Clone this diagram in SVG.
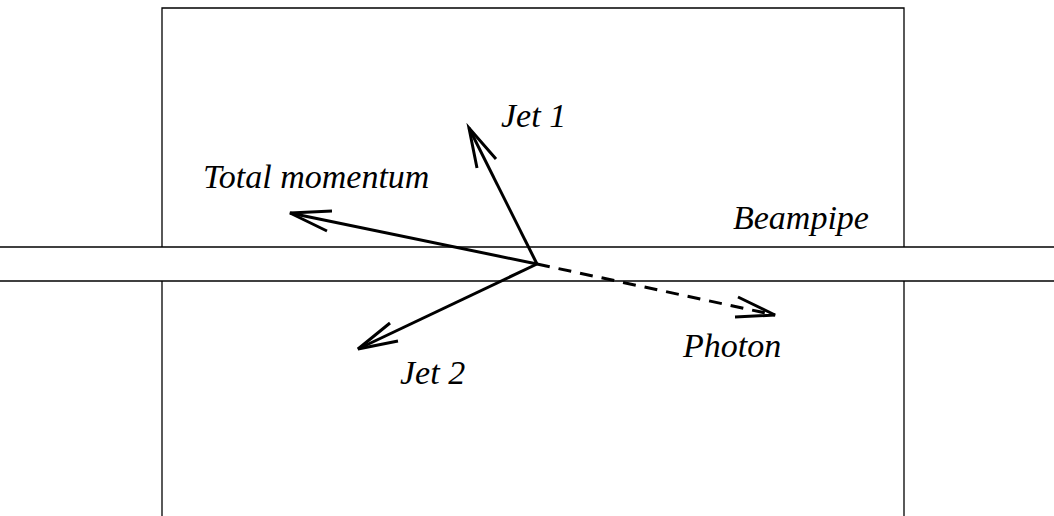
<svg xmlns="http://www.w3.org/2000/svg" width="1054" height="516" viewBox="0 0 1054 516">
<style>
.thin{stroke:#000;stroke-width:1.3;fill:none}
.vec{stroke:#000;stroke-width:3;fill:none;stroke-linecap:butt;stroke-linejoin:miter}
.dash{stroke-dasharray:13 9}
text{font-family:"Liberation Serif","Times New Roman",serif;font-style:italic;font-size:34px;fill:#000}
</style>
<rect width="1054" height="516" fill="#fff"/>
<g id="detector">
<polyline class="thin" points="162,247 162,8 904,8 904,247"/>
<line class="thin" x1="162" y1="281" x2="162" y2="516"/>
<line class="thin" x1="904" y1="281" x2="904" y2="516"/>
</g>
<g id="beampipe">
<line class="thin" x1="0" y1="247" x2="1054" y2="247"/>
<line class="thin" x1="0" y1="281" x2="1054" y2="281"/>
<text x="733" y="229">Beampipe</text>
</g>
<g id="connectors">
<line class="vec" x1="537" y1="264" x2="290" y2="213"/>
<polyline class="vec" points="332,211 290,213 327,231"/>
<line class="vec" x1="537" y1="264" x2="469" y2="128"/>
<polyline class="vec" points="496,159 469,128 477,168"/>
<line class="vec" x1="537" y1="264" x2="358" y2="349"/>
<polyline class="vec" points="390,323 358,349 398,341"/>
<line class="vec dash" x1="537" y1="264" x2="775" y2="315"/>
<polyline class="vec" points="738,297 775,315 735,317"/>
</g>
<g id="total"><text x="203" y="188">Total momentum</text></g>
<g id="jet1"><text x="501" y="127">Jet 1</text></g>
<g id="jet2"><text x="400" y="384">Jet 2</text></g>
<g id="photon"><text x="683" y="357">Photon</text></g>
</svg>
